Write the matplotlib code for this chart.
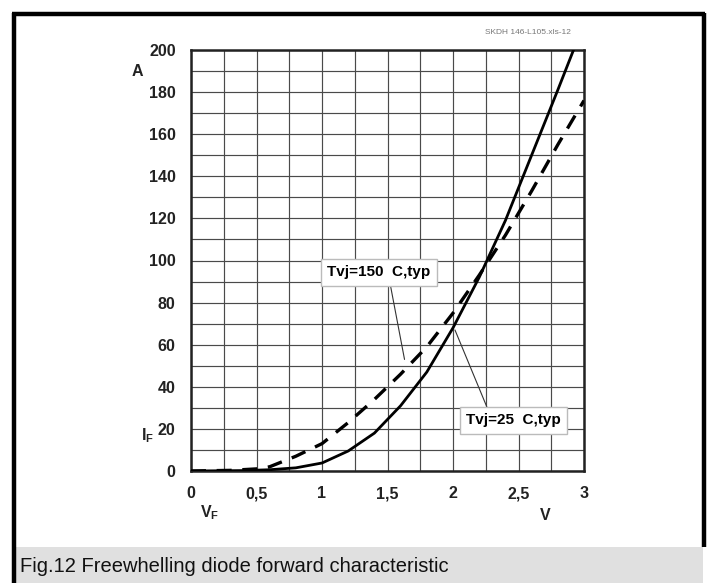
import matplotlib
matplotlib.use("Agg")
import matplotlib.pyplot as plt
from matplotlib.patches import Rectangle
from matplotlib.lines import Line2D

# ---- data ----
v_25 = [0.0, 0.4, 0.6, 0.8, 1.0, 1.2, 1.4, 1.6, 1.8, 2.0, 2.2, 2.4, 2.6, 2.8, 2.92]
i_25 = [0.0, 0.2, 0.6, 1.5, 3.8, 9.5, 18, 31, 47, 68, 92, 119, 150, 181, 200]

v_150 = [0.0, 0.3, 0.5, 0.6, 0.8, 1.0, 1.2, 1.4, 1.6, 1.8, 2.0, 2.2, 2.4, 2.6, 2.8, 3.0]
i_150 = [0.0, 0.3, 1.0, 2.0, 7.0, 13, 23, 34, 46, 59, 75, 93, 112, 133, 155, 176]

x_ticks = [0, 0.5, 1, 1.5, 2, 2.5, 3]
x_tick_labels = ["0", "0,5", "1", "1,5", "2", "2,5", "3"]
y_ticks = [0, 20, 40, 60, 80, 100, 120, 140, 160, 180, 200]

label_150 = "Tvj=150  C,typ"
label_25 = "Tvj=25  C,typ"
caption = "Fig.12 Freewhelling diode forward characteristic"
file_tag = "SKDH 146-L105.xls-12"

W, H = 712, 583
fig = plt.figure(figsize=(W / 100, H / 100), dpi=100)
fig.patch.set_facecolor("white")

def fx(px):
    return px / W

def fy(py):
    return 1 - py / H

# outer frame and caption band
fig.patches.append(Rectangle((fx(12), fy(583)), fx(703) - fx(12), fy(547) - fy(583),
                             transform=fig.transFigure, facecolor="#e0e0e0",
                             edgecolor="none", zorder=0))
frame_kw = dict(transform=fig.transFigure, color="black", lw=3.2, solid_capstyle="butt")
fig.lines.append(Line2D([fx(13.5), fx(13.5)], [fy(583), fy(13)], **frame_kw))
fig.lines.append(Line2D([fx(12), fx(705)], [fy(14), fy(14)], **frame_kw))
fig.lines.append(Line2D([fx(704), fx(704)], [fy(13), fy(547)], **frame_kw))

fig.text(fx(20), fy(566), caption, fontsize=14.5, family="Liberation Sans",
         ha="left", va="center", color="#111111")

# axes
ax = fig.add_axes([fx(191), fy(471), fx(584) - fx(191), fy(50) - fy(471)])
ax.set_xlim(0, 3)
ax.set_ylim(0, 200)
ax.set_xticks(x_ticks)
ax.set_xticklabels(x_tick_labels)
ax.set_yticks(y_ticks)
ax.set_xticks([i * 0.25 for i in range(13)], minor=True)
ax.set_yticks([i * 10 for i in range(21)], minor=True)
ax.grid(True, which="both", color="#4a4a4a", lw=0.85)
ax.set_axisbelow(True)
ax.tick_params(which="both", length=0, pad=11, labelsize=11.5)
for lab in ax.get_xticklabels() + ax.get_yticklabels():
    lab.set_fontweight("bold")
    lab.set_family("Liberation Sans")
    lab.set_color("#222222")
for s in ax.spines.values():
    s.set_linewidth(1.8)
    s.set_color("#222222")

ax.plot(v_25, i_25, color="black", lw=2.0, solid_joinstyle="round", zorder=3)
ax.plot(v_150, i_150, color="black", lw=2.4, linestyle=(0, (4.5, 3.2)), zorder=3)

box = dict(boxstyle="square,pad=0.4", facecolor="white", edgecolor="#bbbbbb", lw=1)
ax.annotate(label_150, xy=(1.63, 53), xytext=(1.435, 94.3), fontsize=11,
            fontweight="bold", family="Liberation Sans", ha="center", va="center",
            bbox=box, zorder=5,
            arrowprops=dict(arrowstyle="-", color="#333333", lw=0.8,
                            shrinkA=0, shrinkB=0, relpos=(0.6, 0.0)))
ax.annotate(label_25, xy=(2.015, 67), xytext=(2.46, 24), fontsize=11,
            fontweight="bold", family="Liberation Sans", ha="center", va="center",
            bbox=box, zorder=5,
            arrowprops=dict(arrowstyle="-", color="#333333", lw=0.8,
                            shrinkA=0, shrinkB=0, relpos=(0.25, 1.0)))

# axis unit labels
bold = dict(fontweight="bold", family="Liberation Sans", color="#222222")
fig.text(fx(137), fy(72), "A", fontsize=11.5, ha="center", va="center", **bold)
fig.text(fx(147), fy(436), "I$_\\mathregular{F}$", fontsize=11.5, ha="center", va="center", **bold)
fig.text(fx(210), fy(513), "V$_\\mathregular{F}$", fontsize=11.5, ha="center", va="center", **bold)
fig.text(fx(545), fy(515), "V", fontsize=11.5, ha="center", va="center", **bold)
fig.text(fx(528), fy(33), file_tag, fontsize=6, ha="center", va="center",
         color="#777777", family="Liberation Sans")

fig.savefig("out.png", dpi=100)
